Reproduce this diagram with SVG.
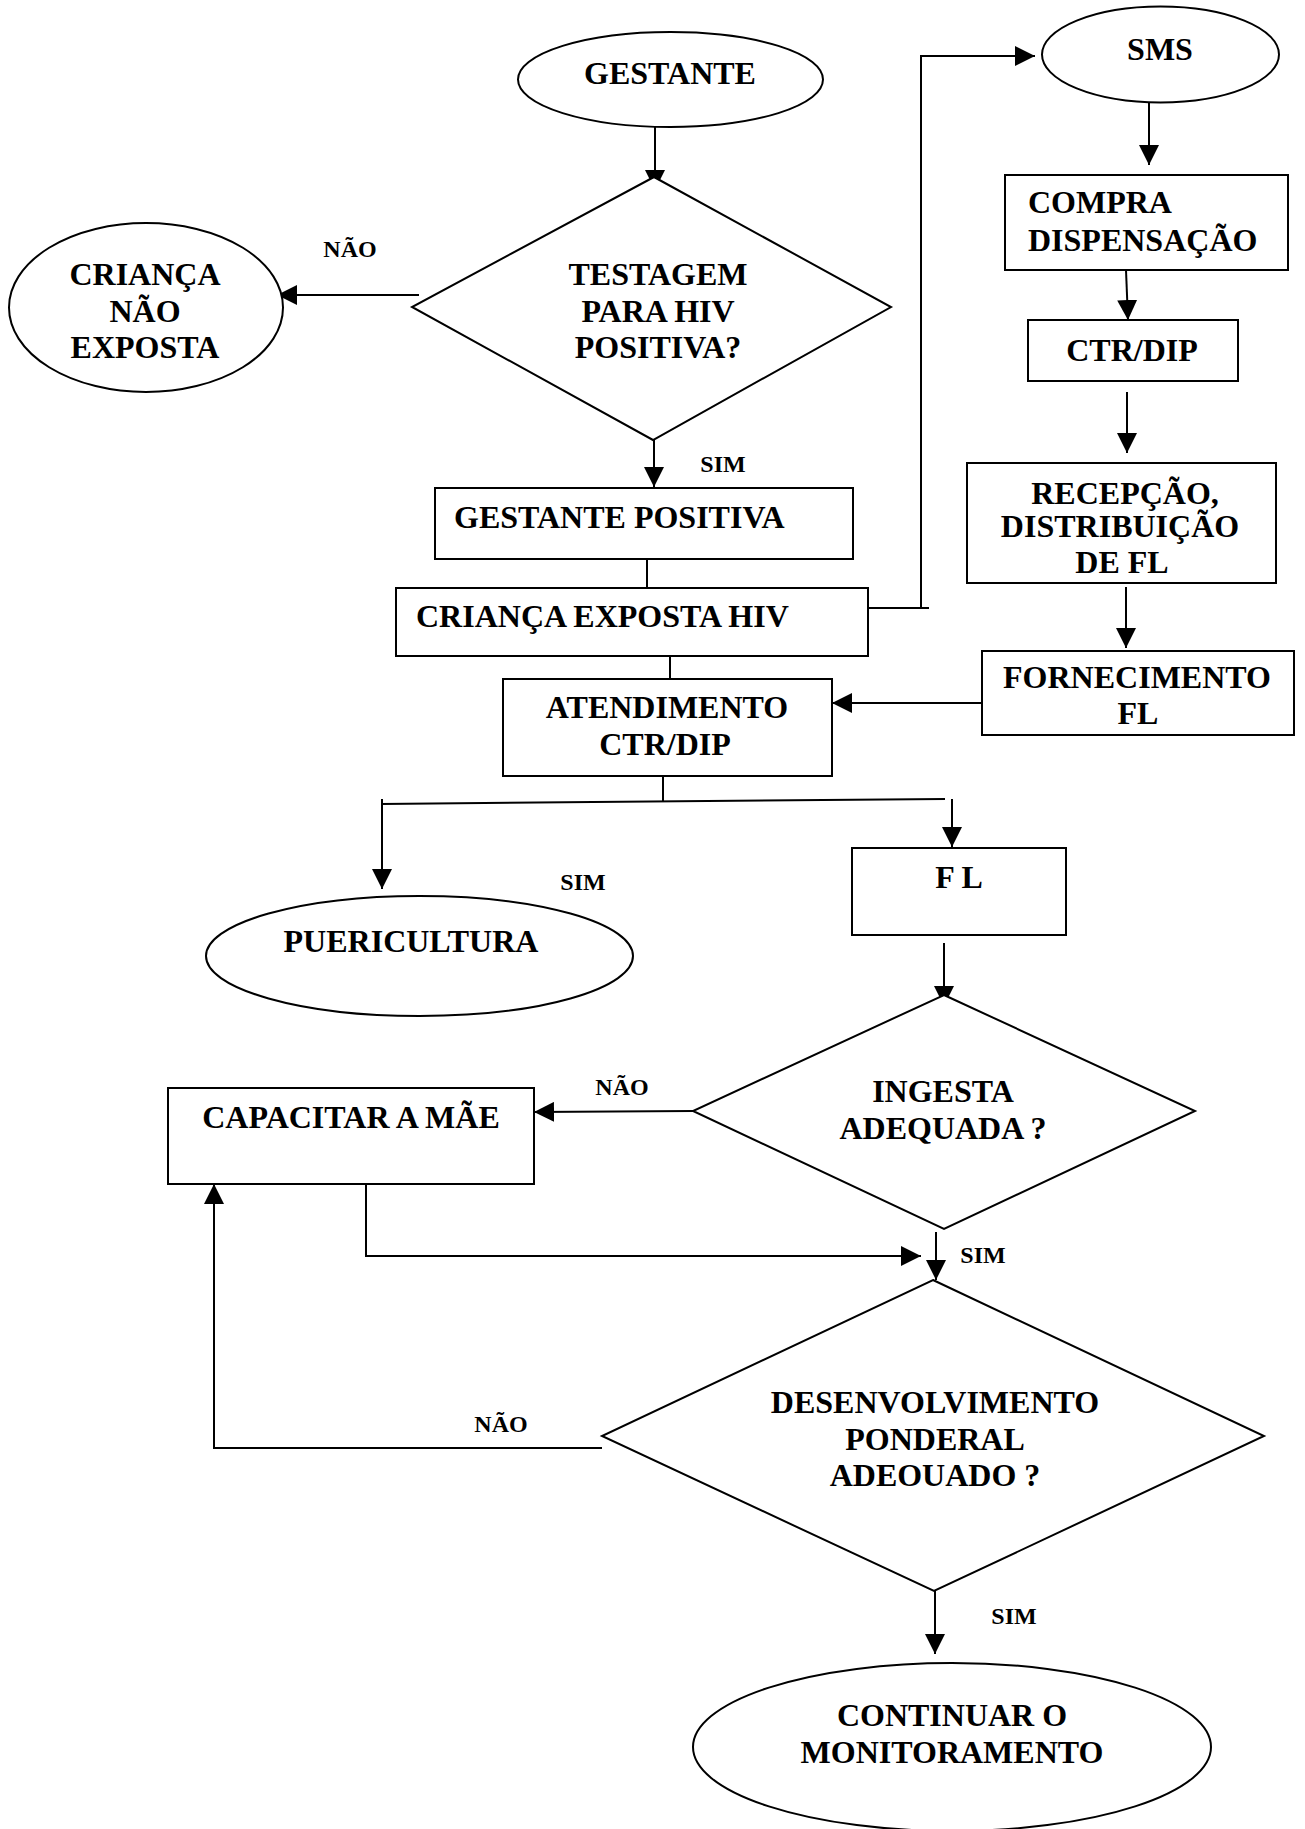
<svg xmlns="http://www.w3.org/2000/svg" width="1305" height="1829" viewBox="0 0 1305 1829">
<style>
.s{fill:#fff;stroke:#000;stroke-width:2}
.c{fill:none;stroke:#000;stroke-width:2}
.t{font-family:"Liberation Serif","Times New Roman",serif;font-weight:bold;font-size:32px;fill:#000}
.m{text-anchor:middle}
.l{font-family:"Liberation Serif","Times New Roman",serif;font-weight:bold;font-size:24px;fill:#000}
</style>
<defs>
<marker id="ah" markerUnits="userSpaceOnUse" markerWidth="20" markerHeight="20" refX="20" refY="10" orient="auto">
<path d="M0,0 L20,10 L0,20 z" fill="#000"/>
</marker>
</defs>
<rect width="1305" height="1829" fill="#fff"/>

<g id="connectors">
<line class="c" x1="655" y1="127" x2="655" y2="190" marker-end="url(#ah)"/>
<line class="c" x1="419" y1="295" x2="277" y2="295" marker-end="url(#ah)"/>
<line class="c" x1="654" y1="440" x2="654" y2="487" marker-end="url(#ah)"/>
<line class="c" x1="647" y1="559" x2="647" y2="587"/>
<line class="c" x1="670" y1="656" x2="670" y2="679"/>
<line class="c" x1="868" y1="608" x2="929" y2="608"/>
<polyline class="c" points="921,608 921,56 1035,56" marker-end="url(#ah)"/>
<line class="c" x1="1149" y1="102" x2="1149" y2="165" marker-end="url(#ah)"/>
<line class="c" x1="1126" y1="270" x2="1128" y2="320" marker-end="url(#ah)"/>
<line class="c" x1="1127" y1="392" x2="1127" y2="453" marker-end="url(#ah)"/>
<line class="c" x1="1126" y1="587" x2="1126" y2="648" marker-end="url(#ah)"/>
<line class="c" x1="982" y1="703" x2="832" y2="703" marker-end="url(#ah)"/>
<line class="c" x1="663" y1="776" x2="663" y2="802"/>
<line class="c" x1="381" y1="804" x2="945" y2="799"/>
<line class="c" x1="382" y1="799" x2="382" y2="889" marker-end="url(#ah)"/>
<line class="c" x1="952" y1="799" x2="952" y2="847" marker-end="url(#ah)"/>
<line class="c" x1="944" y1="943" x2="944" y2="1006" marker-end="url(#ah)"/>
<line class="c" x1="693" y1="1111" x2="534" y2="1112" marker-end="url(#ah)"/>
<polyline class="c" points="366,1184 366,1256 921,1256" marker-end="url(#ah)"/>
<line class="c" x1="936" y1="1232" x2="936" y2="1280" marker-end="url(#ah)"/>
<polyline class="c" points="602,1448 214,1448 214,1184" marker-end="url(#ah)"/>
<line class="c" x1="935" y1="1591" x2="935" y2="1654" marker-end="url(#ah)"/>
<text class="l m" x="350" y="257">NÃO</text>
<text class="l m" x="723" y="472">SIM</text>
<text class="l m" x="583" y="890">SIM</text>
<text class="l m" x="622" y="1095">NÃO</text>
<text class="l m" x="983" y="1263">SIM</text>
<text class="l m" x="501" y="1432">NÃO</text>
<text class="l m" x="1014" y="1624">SIM</text>
</g>

<g id="gestante">
<ellipse class="s" cx="670.5" cy="79.5" rx="152.5" ry="47.5"/>
<text class="t m" x="670" y="84">GESTANTE</text>
</g>

<g id="testagem">
<polygon class="s" points="654,177 891,307 653,440 412,307"/>
<text class="t m" x="658" y="285">TESTAGEM</text>
<text class="t m" x="658" y="322">PARA HIV</text>
<text class="t m" x="658" y="358">POSITIVA?</text>
</g>

<g id="crianca-nao-exposta">
<ellipse class="s" cx="146" cy="307.5" rx="137" ry="84.5"/>
<text class="t m" x="145" y="285">CRIANÇA</text>
<text class="t m" x="145" y="322">NÃO</text>
<text class="t m" x="145" y="358">EXPOSTA</text>
</g>

<g id="gestante-positiva">
<rect class="s" x="435" y="488" width="418" height="71"/>
<text class="t" x="454" y="528">GESTANTE POSITIVA</text>
</g>

<g id="crianca-exposta">
<rect class="s" x="396" y="588" width="472" height="68"/>
<text class="t" x="416" y="627">CRIANÇA EXPOSTA HIV</text>
</g>

<g id="atendimento">
<rect class="s" x="503" y="679" width="329" height="97"/>
<text class="t m" x="667" y="718">ATENDIMENTO</text>
<text class="t m" x="665" y="755">CTR/DIP</text>
</g>

<g id="sms">
<ellipse class="s" cx="1160.5" cy="54.5" rx="118.5" ry="48"/>
<text class="t m" x="1160" y="60">SMS</text>
</g>

<g id="compra">
<rect class="s" x="1005" y="175" width="283" height="95"/>
<text class="t" x="1028" y="213">COMPRA</text>
<text class="t" x="1028" y="251">DISPENSAÇÃO</text>
</g>

<g id="ctr-dip">
<rect class="s" x="1028" y="320" width="210" height="61"/>
<text class="t m" x="1132" y="361">CTR/DIP</text>
</g>

<g id="recepcao">
<rect class="s" x="967" y="463" width="309" height="120"/>
<text class="t m" x="1125" y="504">RECEPÇÃO,</text>
<text class="t m" x="1120" y="537">DISTRIBUIÇÃO</text>
<text class="t m" x="1122" y="573">DE FL</text>
</g>

<g id="fornecimento">
<rect class="s" x="982" y="651" width="312" height="84"/>
<text class="t m" x="1137" y="688">FORNECIMENTO</text>
<text class="t m" x="1138" y="724">FL</text>
</g>

<g id="puericultura">
<ellipse class="s" cx="419.5" cy="956" rx="213.5" ry="60"/>
<text class="t m" x="411" y="952">PUERICULTURA</text>
</g>

<g id="fl">
<rect class="s" x="852" y="848" width="214" height="87"/>
<text class="t m" x="959" y="888">F L</text>
</g>

<g id="ingesta">
<polygon class="s" points="944,995 1195,1111 944,1229 693,1111"/>
<text class="t m" x="943" y="1102">INGESTA</text>
<text class="t m" x="943" y="1139">ADEQUADA ?</text>
</g>

<g id="capacitar">
<rect class="s" x="168" y="1088" width="366" height="96"/>
<text class="t m" x="351" y="1128">CAPACITAR A MÃE</text>
</g>

<g id="desenvolvimento">
<polygon class="s" points="933,1280 1264,1436 934,1591 602,1436"/>
<text class="t m" x="935" y="1413">DESENVOLVIMENTO</text>
<text class="t m" x="935" y="1450">PONDERAL</text>
<text class="t m" x="935" y="1486">ADEOUADO ?</text>
</g>

<g id="continuar">
<ellipse class="s" cx="952" cy="1747" rx="259" ry="84"/>
<text class="t m" x="952" y="1726">CONTINUAR O</text>
<text class="t m" x="952" y="1763">MONITORAMENTO</text>
</g>
</svg>
